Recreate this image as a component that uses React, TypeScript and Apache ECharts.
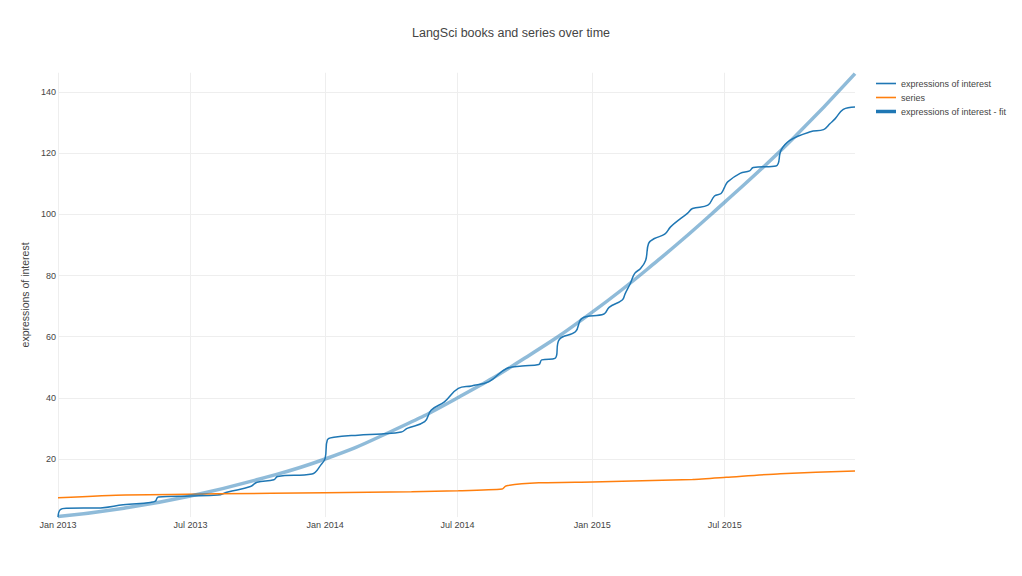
import React, { useEffect, useRef } from 'react';
import * as echarts from 'echarts';

const interestDates = [
  '2013-01-01', '2013-01-04', '2013-01-13', '2013-02-28', '2013-03-31', '2013-05-07', '2013-05-14', '2013-05-18',
  '2013-07-01', '2013-08-07', '2013-08-21', '2013-09-21', '2013-09-30', '2013-10-23', '2013-10-28', '2013-12-14',
  '2013-12-26', '2014-01-01', '2014-01-04', '2014-01-13', '2014-02-15', '2014-03-19', '2014-04-15', '2014-04-23',
  '2014-05-17', '2014-05-26', '2014-06-13', '2014-07-02', '2014-07-20', '2014-08-13', '2014-09-06', '2014-09-27',
  '2014-10-20', '2014-10-24', '2014-11-11', '2014-11-17', '2014-12-09', '2014-12-18', '2015-01-17', '2015-01-24',
  '2015-02-11', '2015-02-15', '2015-02-22', '2015-02-28', '2015-03-08', '2015-03-15', '2015-03-19', '2015-03-27',
  '2015-04-10', '2015-04-18', '2015-05-02', '2015-05-11', '2015-05-18', '2015-06-08', '2015-06-17', '2015-06-26',
  '2015-07-01', '2015-07-05', '2015-07-22', '2015-08-04', '2015-08-09', '2015-09-09', '2015-09-16', '2015-09-28',
  '2015-10-26', '2015-11-13', '2015-11-22', '2015-11-29', '2015-12-10', '2015-12-26',
];
const interestValues = [
  1.0, 3.4, 3.9, 4.0, 5.0, 5.8, 6.2, 7.6,
  7.9, 8.2, 9.2, 11.0, 12.4, 13.2, 14.3, 15.1,
  18.0, 20.2, 26.2, 27.1, 27.8, 28.2, 28.8, 30.0,
  32.2, 36.0, 38.7, 43.1, 43.9, 45.3, 49.6, 50.4,
  50.9, 52.4, 52.9, 59.1, 61.6, 66.0, 67.4, 69.6,
  72.0, 74.1, 77.4, 80.7, 82.3, 85.0, 90.5, 92.1,
  93.5, 95.9, 98.7, 100.3, 101.9, 103.0, 106.0, 106.8,
  109.0, 110.6, 113.4, 114.2, 115.3, 115.8, 121.0, 124.2,
  127.0, 127.7, 129.7, 131.3, 134.3, 135.1,
];

const seriesDates = [
  '2013-01-01', '2013-04-03', '2013-08-07', '2014-01-01', '2014-04-29', '2014-07-02', '2014-08-31',
  '2014-09-05', '2014-10-20', '2015-01-01', '2015-05-18', '2015-07-03', '2015-09-15', '2015-12-26',
];
const seriesValues = [7.3, 8.2, 8.6, 9.0, 9.3, 9.6, 10.2, 11.2, 12.2, 12.5, 13.3, 14.0, 15.2, 16.1];

const fitDates = [
  '2013-01-01', '2013-04-01', '2013-07-01', '2013-10-01', '2014-01-01', '2014-04-01', '2014-07-01',
  '2014-10-01', '2015-01-01', '2015-04-01', '2015-07-01', '2015-10-01', '2015-12-26',
];
const fitValues = [1.2, 3.9, 7.9, 13.3, 20, 29, 40, 53, 68, 85, 104, 124.5, 146];

const xTickDates = ['2013-01-01', '2013-07-01', '2014-01-01', '2014-07-01', '2015-01-01', '2015-07-01'];
const xStart = '2013-01-01';
const xEnd = '2015-12-26';
const monthNames = ['Jan', 'Feb', 'Mar', 'Apr', 'May', 'Jun', 'Jul', 'Aug', 'Sep', 'Oct', 'Nov', 'Dec'];

const titleText = 'LangSci books and series over time';
const yAxisTitle = 'expressions of interest';
const legendNames = ['expressions of interest', 'series', 'expressions of interest - fit'];

const FONT = '"Liberation Sans", Arial, sans-serif';
const BLUE = '#1f77b4';
const ORANGE = '#ff7f0e';

const ts = (d: string) => Date.parse(d + 'T00:00:00Z');

function zip(dates: string[], values: number[]) {
  return dates.map((d, i) => [ts(d), values[i]]);
}

export default function App() {
  const ref = useRef<HTMLDivElement>(null);
  useEffect(() => {
    document.body.style.margin = '0';
    const chart = echarts.init(ref.current as HTMLDivElement, null, { renderer: 'svg' });
    const tickValues = xTickDates.map(ts);
    chart.setOption({
      animation: false,
      backgroundColor: '#fff',
      textStyle: { fontFamily: FONT },
      title: {
        text: titleText,
        left: 'center',
        top: 21,
        textStyle: { fontFamily: FONT, fontSize: 12.5, fontWeight: 'normal', color: '#444' },
      },
      legend: {
        orient: 'vertical',
        left: 876,
        top: 79,
        padding: 0,
        itemWidth: 20,
        itemHeight: 10,
        itemGap: 5,
        textStyle: { fontFamily: FONT, fontSize: 9, color: '#444' },
        data: [
          { name: legendNames[0], icon: 'path://M0,0H20V1.6H0Z', itemStyle: { color: BLUE } },
          { name: legendNames[1], icon: 'path://M0,0H20V1.6H0Z', itemStyle: { color: ORANGE } },
          { name: legendNames[2], icon: 'path://M0,0H20V3.5H0Z', itemStyle: { color: BLUE } },
        ],
      },
      grid: { left: 58, right: 167, top: 72.75, bottom: 58.9, containLabel: false },
      xAxis: {
        type: 'value',
        min: ts(xStart),
        max: ts(xEnd),
        axisLine: { show: false },
        axisTick: { show: false, customValues: tickValues },
        axisLabel: {
          customValues: tickValues,
          margin: 3,
          color: '#444',
          fontSize: 9,
          fontFamily: FONT,
          formatter: (value: number) => {
            const d = new Date(value);
            return `${monthNames[d.getUTCMonth()]} ${d.getUTCFullYear()}`;
          },
        },
        splitLine: { show: true, lineStyle: { color: '#eee', width: 1 } },
      },
      yAxis: {
        type: 'value',
        min: 1,
        max: 146.3,
        splitNumber: 7,
        minInterval: 20,
        maxInterval: 20,
        name: yAxisTitle,
        nameLocation: 'middle',
        nameGap: 26,
        nameTextStyle: { fontFamily: FONT, fontSize: 10.5, color: '#444' },
        axisLine: { show: false },
        axisTick: { show: false },
        axisLabel: {
          showMinLabel: false,
          showMaxLabel: false,
          margin: 2,
          color: '#444',
          fontSize: 9,
          fontFamily: FONT,
        },
        splitLine: { show: true, showMinLine: false, showMaxLine: false, lineStyle: { color: '#eee', width: 1 } },
      },
      series: [
        {
          name: legendNames[0],
          type: 'line',
          data: zip(interestDates, interestValues),
          showSymbol: false,
          symbol: 'none',
          smooth: 0.4,
          lineStyle: { color: BLUE, width: 1.5 },
          itemStyle: { color: BLUE },
          z: 3,
        },
        {
          name: legendNames[1],
          type: 'line',
          data: zip(seriesDates, seriesValues),
          showSymbol: false,
          symbol: 'none',
          smooth: 0.2,
          lineStyle: { color: ORANGE, width: 1.5 },
          itemStyle: { color: ORANGE },
          z: 3,
        },
        {
          name: legendNames[2],
          type: 'line',
          data: zip(fitDates, fitValues),
          showSymbol: false,
          symbol: 'none',
          smooth: true,
          lineStyle: { color: BLUE, width: 3.5, opacity: 0.5 },
          itemStyle: { color: BLUE },
          z: 4,
        },
      ],
    });
    return () => chart.dispose();
  }, []);
  return <div ref={ref} style={{ width: 1022, height: 576 }} />;
}
